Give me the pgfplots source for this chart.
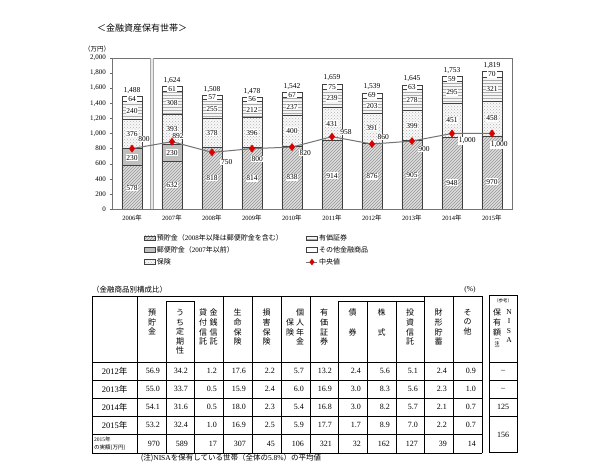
\documentclass[border=0pt]{standalone}
\usepackage{fontspec}
\setmainfont{Liberation Serif}
\newfontfamily\jp{Noto Sans CJK JP}
\usepackage{pgfplots}
\pgfplotsset{compat=1.18}
\usepackage{pgfplotstable}
\usetikzlibrary{patterns}
\newcommand{\J}[1]{{\jp #1}}
\newcommand{\fs}[1]{\fontsize{#1}{#1}\selectfont}

\pgfplotstableread{
x dep post ins sec oth
0 578 230 376 240 64
1 632 230 393 308 61
2 818 0 378 255 57
3 814 0 396 212 56
4 838 0 400 237 67
5 914 0 431 239 75
6 876 0 391 203 69
7 905 0 399 278 63
8 948 0 451 295 59
9 970 0 458 321 70
}\bars

\pgfplotstableread{
x med
0 800
1 892
2 750
3 800
4 820
5 958
6 860
7 900
8 1000
9 1000
}\median

\pgfplotstableread{
x y l
0 280 578
0 680 230
0 996 376
0 1304 240
0 1456 64
1 316 632
1 747 230
1 1058 393
1 1409 308
1 1593 61
2 409 818
2 1007 378
2 1323 255
2 1479 57
3 407 814
3 1012 396
3 1316 212
3 1450 56
4 419 838
4 1038 400
4 1356 237
4 1508 67
5 440 914
5 1129 431
5 1464 239
5 1621 75
6 430 876
6 1071 391
6 1368 203
6 1504 69
7 452 905
7 1104 399
7 1443 278
7 1613 63
8 350 948
8 1173 451
8 1546 295
8 1723 59
9 360 970
9 1199 458
9 1588 321
9 1784 70
}\seglabels

\pgfplotstableread{
x y l
0 1488 1,488
1 1624 1,624
2 1508 1,508
3 1478 1,478
4 1542 1,542
5 1659 1,659
6 1539 1,539
7 1645 1,645
8 1753 1,753
9 1819 1,819
}\totals

\pgfplotsset{
 swatch/.style={legend image code/.code={\draw[##1] (0pt,-2pt) rectangle (11pt,2.5pt);}},
 medlegend/.style={legend image code/.code={\draw[##1,mark repeat=2,mark phase=2] plot coordinates {(0pt,0pt) (5.5pt,0pt) (11pt,0pt)};}},
}
\tikzset{vt/.style={anchor=north, align=center, inner sep=0pt, font=\jp\fontsize{8}{9.6}\selectfont}}

\begin{document}
\begin{tikzpicture}
\path[use as bounding box, fill=white] (0,0) rectangle (600pt,471pt);

\begin{axis}[
  at={(112pt,262pt)}, anchor=south west,
  scale only axis, width=400pt, height=151pt,
  ybar stacked, bar width=20pt,
  xmin=-0.5, xmax=9.5, ymin=0, ymax=2000,
  xtick={0,...,9},
  xticklabels={2006\J{年},2007\J{年},2008\J{年},2009\J{年},2010\J{年},2011\J{年},2012\J{年},2013\J{年},2014\J{年},2015\J{年}},
  x tick label style={font=\fs{6.5}},
  ytick={0,200,...,2000},
  y tick label style={font=\fs{7}},
  /pgf/number format/assume math mode=true,
  /pgf/number format/1000 sep={,},
  xtick style={draw=none},
  ytick pos=left, tick align=outside, major tick length=2.5pt,
  ytick style={black!60},
  axis line style={black!55, line width=0.7pt},
  legend columns=3, transpose legend,
  legend style={at={(0.08,-0.16)}, anchor=north west, draw=none, fill=none,
    font=\fs{7}, row sep=2pt, inner sep=0pt, nodes={inner sep=1.2pt},
    /tikz/column 2/.style={column sep=22pt}},
  legend cell align=left,
]
\addplot[swatch, draw=black!75, line width=0.4pt, preaction={fill=gray!25}, pattern=north east lines, pattern color=gray!85] table[x=x,y=dep]{\bars};
\addlegendentry{\J{預貯金（}2008\J{年以降は郵便貯金を含む）}}
\addplot[swatch, draw=black!75, line width=0.4pt, fill=gray!50] table[x=x,y=post]{\bars};
\addlegendentry{\J{郵便貯金（}2007\J{年以前）}}
\addplot[swatch, draw=black!75, line width=0.4pt, preaction={fill=gray!5}, pattern=crosshatch dots, pattern color=gray!60] table[x=x,y=ins]{\bars};
\addlegendentry{\J{保険}}
\addplot[swatch, draw=black!75, line width=0.4pt, preaction={fill=gray!8}, pattern=horizontal lines, pattern color=gray!65] table[x=x,y=sec]{\bars};
\addlegendentry{\J{有価証券}}
\addplot[swatch, draw=black!75, line width=0.4pt, fill=white] table[x=x,y=oth]{\bars};
\addlegendentry{\J{その他金融商品}}
\addlegendimage{sharp plot, medlegend, black!55, line width=0.9pt, mark=diamond*, mark size=2.6pt, mark options={fill=red!85!black, draw=red!85!black}}
\addlegendentry{\J{中央値}}
\fill[gray!18] (axis cs:0.465,0) rectangle (axis cs:0.535,2000);
\draw[gray!70, line width=0.4pt] (axis cs:0.465,0) -- (axis cs:0.465,2000);
\draw[gray!70, line width=0.4pt] (axis cs:0.535,0) -- (axis cs:0.535,2000);
\draw[black, line width=0.8pt] (axis cs:-0.5,0) -- (axis cs:9.5,0);
\end{axis}

\begin{axis}[
  at={(112pt,262pt)}, anchor=south west,
  scale only axis, width=400pt, height=151pt,
  xmin=-0.5, xmax=9.5, ymin=0, ymax=2000,
  hide axis, clip=false,
]
\addplot[black!55, line width=1pt, mark=diamond*, mark size=3.2pt, mark options={fill=red!85!black, draw=red!85!black}] table[x=x,y=med]{\median};
\addplot[draw=none, nodes near coords, point meta=explicit symbolic, nodes near coords align={center},
  every node near coord/.append style={fill=white, inner sep=0.8pt, font=\fs{7.5}}] table[x=x,y=y,meta=l]{\seglabels};
\addplot[draw=none, nodes near coords, point meta=explicit symbolic,
  every node near coord/.append style={inner sep=1pt, yshift=1.5pt, font=\fs{7.5}}] table[x=x,y=y,meta=l]{\totals};
\tikzset{ml/.style={fill=white, inner sep=0.8pt, font=\fs{7.5}}}
\node[ml] at (axis cs:0.3,927) {800};
\node[ml] at (axis cs:1.15,967) {892};
\node[ml] at (axis cs:2.37,623) {750};
\node[ml] at (axis cs:3.13,662) {800};
\node[ml] at (axis cs:4.33,742) {820};
\node[ml] at (axis cs:5.35,1020) {958};
\node[ml] at (axis cs:6.28,954) {860};
\node[ml] at (axis cs:7.3,795) {900};
\node[ml] at (axis cs:8.38,900) {1,000};
\node[ml] at (axis cs:9.18,848) {1,000};
\end{axis}

\begin{scope}[shift={(0pt,471pt)}, x=1pt, y=-1pt]
% titles
\node[font=\jp\fs{9}] at (142,28) {＜金融資産保有世帯＞};
\node[font=\jp\fs{6.5}] at (97,49) {（万円）};
% table caption
\node[anchor=west, font=\jp\fs{7.5}, inner sep=0] at (92,290) {（金融商品別構成比）};
\node[font=\fs{7.5}] at (470,290) {(\%)};
% table lines
\draw[line width=0.5pt] (92,296) -- (482,296);
\draw[line width=0.5pt] (166,301) -- (194,301);
\draw[line width=0.5pt] (338,301) -- (424,301);
\draw[line width=0.9pt] (92,362) -- (482,362);
\foreach \yy in {380,398,416,434} {\draw[line width=0.5pt] (92,\yy) -- (482,\yy);}
\draw[line width=0.9pt] (92,453) -- (482,453);
\foreach \xx in {137,252,281,310,424,453} {\draw[line width=0.5pt] (\xx,296) -- (\xx,453);}
\foreach \xx in {166,194,367,396} {\draw[line width=0.5pt] (\xx,301) -- (\xx,453);}
\draw[line width=1pt] (338,301) -- (338,453);
\draw[line width=1pt] (223,296) -- (223,453);
\draw[line width=1pt] (92,296) -- (92,453);
\draw[line width=1pt] (482,296) -- (482,453);
% NISA box
\draw[line width=1pt] (489,296) rectangle (517,453);
\draw[line width=0.9pt] (489,362) -- (517,362);
\foreach \yy in {380,398,416} {\draw[line width=0.5pt] (489,\yy) -- (517,\yy);}
% headers
\node[vt] at (152,309) {預\\貯\\金};
\node[vt] at (180,309) {う\\ち\\定\\期\\性};
\node[vt] at (213.5,309) {金\\銭\\信\\託};
\node[vt] at (203,309) {貸\\付\\信\\託};
\node[vt] at (237.5,309) {生\\命\\保\\険};
\node[vt] at (266.5,309) {損\\害\\保\\険};
\node[vt] at (300,309) {個\\人\\年\\金};
\node[vt] at (290,318.6) {保\\険};
\node[vt] at (324,309) {有\\価\\証\\券};
\node[vt] at (352.5,309) {債\\ \\券};
\node[vt] at (381.5,309) {株\\ \\式};
\node[vt] at (410,309) {投\\資\\信\\託};
\node[vt] at (438.5,309) {財\\形\\貯\\蓄};
\node[vt] at (467.5,309) {そ\\の\\他};
\node[font=\jp\fs{4.5}] at (503,301) {（参考）};
\node[vt, font=\fontsize{7.5}{9.6}\selectfont] at (509,309) {N\\I\\S\\A};
\node[vt] at (497,309) {保\\有\\額};
\node[vt, font=\jp\fontsize{5}{5.5}\selectfont] at (497,338.5) {︵\\注\\︶};
% row labels
\node[font=\fs{8.5}] at (114.5,371) {2012\J{年}};
\node[font=\fs{8.5}] at (114.5,389) {2013\J{年}};
\node[font=\fs{8.5}] at (114.5,407) {2014\J{年}};
\node[font=\fs{8.5}] at (114.5,425) {2015\J{年}};
\node[anchor=west, font=\fs{5.5}, inner sep=0] at (94,439.5) {2015\J{年}};
\node[anchor=west, font=\fs{5.5}, inner sep=0] at (94,447.5) {\J{の実額(万円)}};
% values
\def\colR{{166,194,223,252,281,310,338,367,396,424,453,482}}
\foreach \yy/\vals in {
  371/{56.9,34.2,1.2,17.6,2.2,5.7,13.2,2.4,5.6,5.1,2.4,0.9},
  389/{55.0,33.7,0.5,15.9,2.4,6.0,16.9,3.0,8.3,5.6,2.3,1.0},
  407/{54.1,31.6,0.5,18.0,2.3,5.4,16.8,3.0,8.2,5.7,2.1,0.7},
  425/{53.2,32.4,1.0,16.9,2.5,5.9,17.7,1.7,8.9,7.0,2.2,0.7},
  443.5/{970,589,17,307,45,106,321,32,162,127,39,14}} {
  \foreach \v [count=\i] in \vals {
    \pgfmathsetmacro\xr{\colR[\i-1]-6}
    \node[anchor=east, font=\fs{8}, inner sep=0] at (\xr,\yy) {\v};
  }
}
\node[font=\fs{8}] at (503,371) {–};
\node[font=\fs{8}] at (503,389) {–};
\node[font=\fs{8}] at (503,407) {125};
\node[font=\fs{8}] at (503,434.5) {156};
% footnote
\node[font=\fs{7.5}] at (231,458) {\J{(注)}NISA\J{を保有している世帯（全体の}5.8\%\J{）の平均値}};
\end{scope}
\end{tikzpicture}
\end{document}
